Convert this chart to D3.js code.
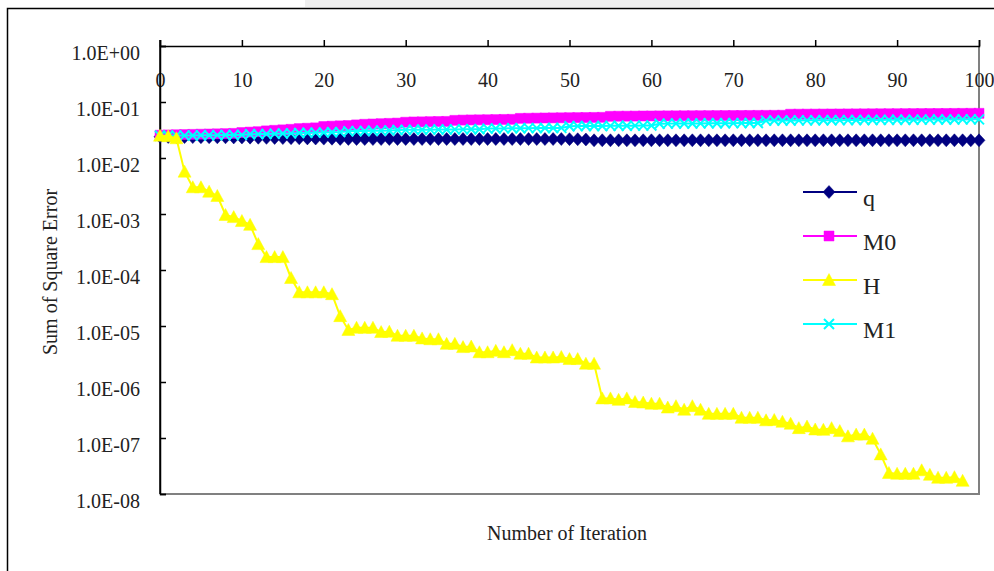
<!DOCTYPE html>
<html>
<head>
<meta charset="utf-8">
<script src="https://cdn.jsdelivr.net/npm/d3@7"></script>
<style>
  html, body { margin: 0; padding: 0; background: #fff; }
  svg { display: block; font-family: "Liberation Serif", "DejaVu Serif", serif; }
</style>
</head>
<body>
<div id="chart"></div>
<script>
// Sum of square error vs iteration, 4 series, log y axis

const xTicks = [0, 10, 20, 30, 40, 50, 60, 70, 80, 90, 100];
const yTicks = [1, 1e-1, 1e-2, 1e-3, 1e-4, 1e-5, 1e-6, 1e-7, 1e-8];
const yTickLabels = ["1.0E+00", "1.0E-01", "1.0E-02", "1.0E-03", "1.0E-04", "1.0E-05", "1.0E-06", "1.0E-07", "1.0E-08"];

const seriesNames = ["q", "M0", "H", "M1"];

// iterations 0..100
const qValues = [
  0.0240, 0.0238, 0.0237, 0.0236, 0.0236, 0.0235, 0.0235, 0.0234, 0.0234, 0.0233,
  0.0232, 0.0231, 0.0230, 0.0229, 0.0228, 0.0227, 0.0226, 0.0225, 0.0224, 0.0223,
  0.0222, 0.0221, 0.0219, 0.0219, 0.0218, 0.0218, 0.0218, 0.0218, 0.0218, 0.0218,
  0.0218, 0.0218, 0.0218, 0.0218, 0.0218, 0.0218, 0.0218, 0.0218, 0.0218, 0.0218,
  0.0218, 0.0218, 0.0218, 0.0218, 0.0218, 0.0218, 0.0218, 0.0218, 0.0218, 0.0218,
  0.0217, 0.0216, 0.0214, 0.0207, 0.0207, 0.0207, 0.0207, 0.0207, 0.0207, 0.0207,
  0.0207, 0.0207, 0.0207, 0.0207, 0.0207, 0.0207, 0.0207, 0.0207, 0.0207, 0.0207,
  0.0207, 0.0207, 0.0207, 0.0207, 0.0207, 0.0207, 0.0207, 0.0207, 0.0207, 0.0207,
  0.0207, 0.0207, 0.0207, 0.0207, 0.0207, 0.0207, 0.0207, 0.0207, 0.0207, 0.0207,
  0.0207, 0.0207, 0.0207, 0.0207, 0.0207, 0.0207, 0.0207, 0.0207, 0.0207, 0.0207,
  0.0207
];

const m0Values = [
  0.0255, 0.0258, 0.0260, 0.0262, 0.0264, 0.0266, 0.0268, 0.0270, 0.0272, 0.0275,
  0.0285, 0.0290, 0.0295, 0.0305, 0.0312, 0.0318, 0.0325, 0.0335, 0.0340, 0.0345,
  0.0365, 0.0370, 0.0375, 0.0380, 0.0390, 0.0400, 0.0405, 0.0410, 0.0415, 0.0420,
  0.0435, 0.0440, 0.0442, 0.0445, 0.0448, 0.0450, 0.0470, 0.0475, 0.0478, 0.0480,
  0.0482, 0.0485, 0.0488, 0.0490, 0.0510, 0.0512, 0.0515, 0.0518, 0.0520, 0.0522,
  0.0524, 0.0526, 0.0528, 0.0530, 0.0532, 0.0555, 0.0557, 0.0558, 0.0560, 0.0562,
  0.0563, 0.0564, 0.0565, 0.0566, 0.0567, 0.0568, 0.0569, 0.0570, 0.0571, 0.0572,
  0.0573, 0.0574, 0.0575, 0.0576, 0.0577, 0.0578, 0.0580, 0.0605, 0.0606, 0.0607,
  0.0608, 0.0609, 0.0610, 0.0611, 0.0612, 0.0613, 0.0614, 0.0615, 0.0616, 0.0617,
  0.0618, 0.0619, 0.0620, 0.0621, 0.0622, 0.0623, 0.0624, 0.0625, 0.0626, 0.0627,
  0.0628
];

// H stops at iteration 98
const hValues = [
  0.0250, 0.0245, 0.0225, 0.0057, 0.0030, 0.0030, 0.0025, 0.0021, 0.00096, 0.00088,
  0.00075, 0.00064, 0.00029, 0.00017, 0.00017, 0.00017, 7.2e-5, 4.0e-5, 4.0e-5, 4.0e-5,
  4.0e-5, 3.7e-5, 1.5e-5, 8.5e-6, 9.3e-6, 9.3e-6, 9.3e-6, 7.8e-6, 7.9e-6, 6.7e-6,
  6.7e-6, 6.7e-6, 6.0e-6, 5.8e-6, 5.8e-6, 4.8e-6, 4.8e-6, 4.2e-6, 4.3e-6, 3.4e-6,
  3.4e-6, 3.6e-6, 3.4e-6, 3.7e-6, 3.2e-6, 3.2e-6, 2.74e-6, 2.74e-6, 2.74e-6, 2.8e-6,
  2.57e-6, 2.57e-6, 2.12e-6, 2.12e-6, 5.1e-7, 5.1e-7, 4.8e-7, 5.1e-7, 4.4e-7, 4.3e-7,
  4.1e-7, 4.1e-7, 3.5e-7, 3.7e-7, 3.2e-7, 3.7e-7, 3.2e-7, 2.7e-7, 2.7e-7, 2.7e-7,
  2.7e-7, 2.3e-7, 2.3e-7, 2.3e-7, 2.07e-7, 2.1e-7, 1.95e-7, 1.8e-7, 1.5e-7, 1.6e-7,
  1.42e-7, 1.4e-7, 1.5e-7, 1.33e-7, 1.07e-7, 1.15e-7, 1.15e-7, 9.7e-8, 5.1e-8, 2.37e-8,
  2.3e-8, 2.3e-8, 2.3e-8, 2.65e-8, 2.2e-8, 1.95e-8, 1.95e-8, 2.0e-8, 1.72e-8
];

const m1Values = [
  0.0250, 0.0250, 0.0251, 0.0252, 0.0253, 0.0254, 0.0255, 0.0256, 0.0257, 0.0258,
  0.0259, 0.0265, 0.0267, 0.0269, 0.0271, 0.0273, 0.0275, 0.0280, 0.0282, 0.0284,
  0.0286, 0.0288, 0.0290, 0.0300, 0.0302, 0.0304, 0.0306, 0.0308, 0.0310, 0.0316,
  0.0318, 0.0319, 0.0320, 0.0321, 0.0322, 0.0323, 0.0324, 0.0325, 0.0326, 0.0327,
  0.0335, 0.0337, 0.0338, 0.0339, 0.0340, 0.0341, 0.0342, 0.0343, 0.0344, 0.0345,
  0.0370, 0.0371, 0.0372, 0.0373, 0.0374, 0.0375, 0.0376, 0.0377, 0.0378, 0.0379,
  0.0380, 0.0410, 0.0411, 0.0412, 0.0413, 0.0414, 0.0415, 0.0416, 0.0417, 0.0418,
  0.0419, 0.0420, 0.0421, 0.0422, 0.0465, 0.0466, 0.0467, 0.0468, 0.0469, 0.0470,
  0.0471, 0.0472, 0.0473, 0.0474, 0.0475, 0.0476, 0.0477, 0.0478, 0.0479, 0.0480,
  0.0481, 0.0482, 0.0483, 0.0484, 0.0485, 0.0486, 0.0487, 0.0488, 0.0489, 0.0490,
  0.0490
];

const W = 994, H = 571;
const plot = { left: 160, right: 979, top: 46, bottom: 494 };

const svg = d3.select("#chart").append("svg")
  .attr("width", W)
  .attr("height", H);

svg.append("rect").attr("width", W).attr("height", H).attr("fill", "#fff");

// bout d'image grise scannée en haut
svg.append("rect")
  .attr("x", 305).attr("y", 0).attr("width", 395).attr("height", 7)
  .attr("fill", "#e4e4e4").attr("opacity", 0.6);

// cadre du graphique (coupé à droite et en bas)
svg.append("path")
  .attr("d", `M7.5,${H + 2} V8.5 H${W + 2}`)
  .attr("fill", "none")
  .attr("stroke", "#000")
  .attr("stroke-width", 1.5);

// Echelles
const x = d3.scaleLinear().domain([0, 100]).range([plot.left, plot.right]);
const y = d3.scaleLog().domain([1e-8, 1]).range([plot.bottom, plot.top]);

// bordure zone de tracé (droite + bas, gris)
svg.append("path")
  .attr("d", `M${plot.left},${plot.bottom} H${plot.right} V${plot.top}`)
  .attr("fill", "none")
  .attr("stroke", "#808080")
  .attr("stroke-width", 2);

// Axe X en haut (croise à 1.0E+00), graduations vers le haut
const xAxis = d3.axisTop(x)
  .tickValues(xTicks)
  .tickSize(6)
  .tickPadding(0)
  .tickFormat(d3.format("d"));

const gx = svg.append("g")
  .attr("transform", `translate(0,${plot.top})`)
  .call(xAxis);
gx.select(".domain").attr("stroke", "#000").attr("stroke-width", 1.5);
gx.selectAll(".tick line").attr("stroke", "#000").attr("stroke-width", 1.5);
gx.selectAll(".tick text")
  .attr("y", 41)
  .attr("dy", 0)
  .attr("fill", "#222")
  .style("font-size", "20px")
  .style("font-family", "Liberation Serif, serif");

// Axe Y log, graduations vers l'intérieur
const yAxis = d3.axisLeft(y)
  .tickValues(yTicks)
  .tickSize(-6)
  .tickFormat((d, i) => yTickLabels[i]);

const gy = svg.append("g")
  .attr("transform", `translate(${plot.left},0)`)
  .call(yAxis);
gy.select(".domain").attr("stroke", "#000").attr("stroke-width", 1.5);
gy.selectAll(".tick line").attr("stroke", "#000").attr("stroke-width", 1.5);
gy.selectAll(".tick text")
  .attr("x", -20)
  .attr("dy", 13)
  .attr("fill", "#222")
  .style("font-size", "20px")
  .style("font-family", "Liberation Serif, serif");

// prolonge l'axe Y jusqu'au tick du 0
svg.append("line")
  .attr("x1", plot.left).attr("x2", plot.left)
  .attr("y1", plot.top - 6).attr("y2", plot.bottom)
  .attr("stroke", "#000").attr("stroke-width", 1.5);

// Titres
svg.append("text")
  .attr("x", 567).attr("y", 540)
  .attr("text-anchor", "middle")
  .attr("fill", "#222")
  .style("font-size", "20px")
  .text("Number of Iteration");

svg.append("text")
  .attr("transform", "translate(57,272) rotate(-90)")
  .attr("text-anchor", "middle")
  .attr("fill", "#222")
  .style("font-size", "20px")
  .text("Sum of Square Error");

// Marqueurs
const markers = {
  diamond: "M0,-6.5 L6,0 L0,6.5 L-6,0 Z",
  square: "M-5,-5 H5 V5 H-5 Z",
  triangle: "M0,-6.5 L6.5,5.5 L-6.5,5.5 Z",
  cross: "M-5,-5 L5,5 M-5,5 L5,-5"
};

const series = [
  { name: "q", values: qValues, color: "#000080", marker: "diamond" },
  { name: "M0", values: m0Values, color: "#FF00FF", marker: "square" },
  { name: "H", values: hValues, color: "#FFFF00", marker: "triangle" },
  { name: "M1", values: m1Values, color: "#00FFFF", marker: "cross" }
];

// ordre de dessin: q, M0, M1, H (H passe au-dessus)
const drawOrder = ["q", "M0", "M1", "H"];

const line = d3.line()
  .x((d, i) => x(i))
  .y(d => y(d));

const gSeries = svg.append("g");

drawOrder.forEach(name => {
  const s = series.find(t => t.name === name);
  const g = gSeries.append("g");
  g.append("path")
    .attr("d", line(s.values))
    .attr("fill", "none")
    .attr("stroke", s.color)
    .attr("stroke-width", 2);

  const isCross = s.marker === "cross";
  g.selectAll("path.mk")
    .data(s.values)
    .enter()
    .append("path")
    .attr("class", "mk")
    .attr("d", markers[s.marker])
    .attr("transform", (d, i) => `translate(${x(i)},${y(d)})`)
    .attr("fill", isCross ? "none" : s.color)
    .attr("stroke", s.color)
    .attr("stroke-width", isCross ? 2 : 0.5);
});

// Légende
const legend = svg.append("g");
const legendY = d3.scalePoint().domain(seriesNames).range([192, 324]);

seriesNames.forEach(name => {
  const s = series.find(t => t.name === name);
  const yy = legendY(name);
  legend.append("line")
    .attr("x1", 803).attr("x2", 857)
    .attr("y1", yy).attr("y2", yy)
    .attr("stroke", s.color)
    .attr("stroke-width", 2);
  legend.append("path")
    .attr("d", markers[s.marker])
    .attr("transform", `translate(829,${yy})`)
    .attr("fill", s.marker === "cross" ? "none" : s.color)
    .attr("stroke", s.color)
    .attr("stroke-width", s.marker === "cross" ? 2 : 0.5);
  legend.append("text")
    .attr("x", 863)
    .attr("y", yy + 14)
    .attr("fill", "#222")
    .style("font-size", "24px")
    .text(name);
});
</script>
</body>
</html>
